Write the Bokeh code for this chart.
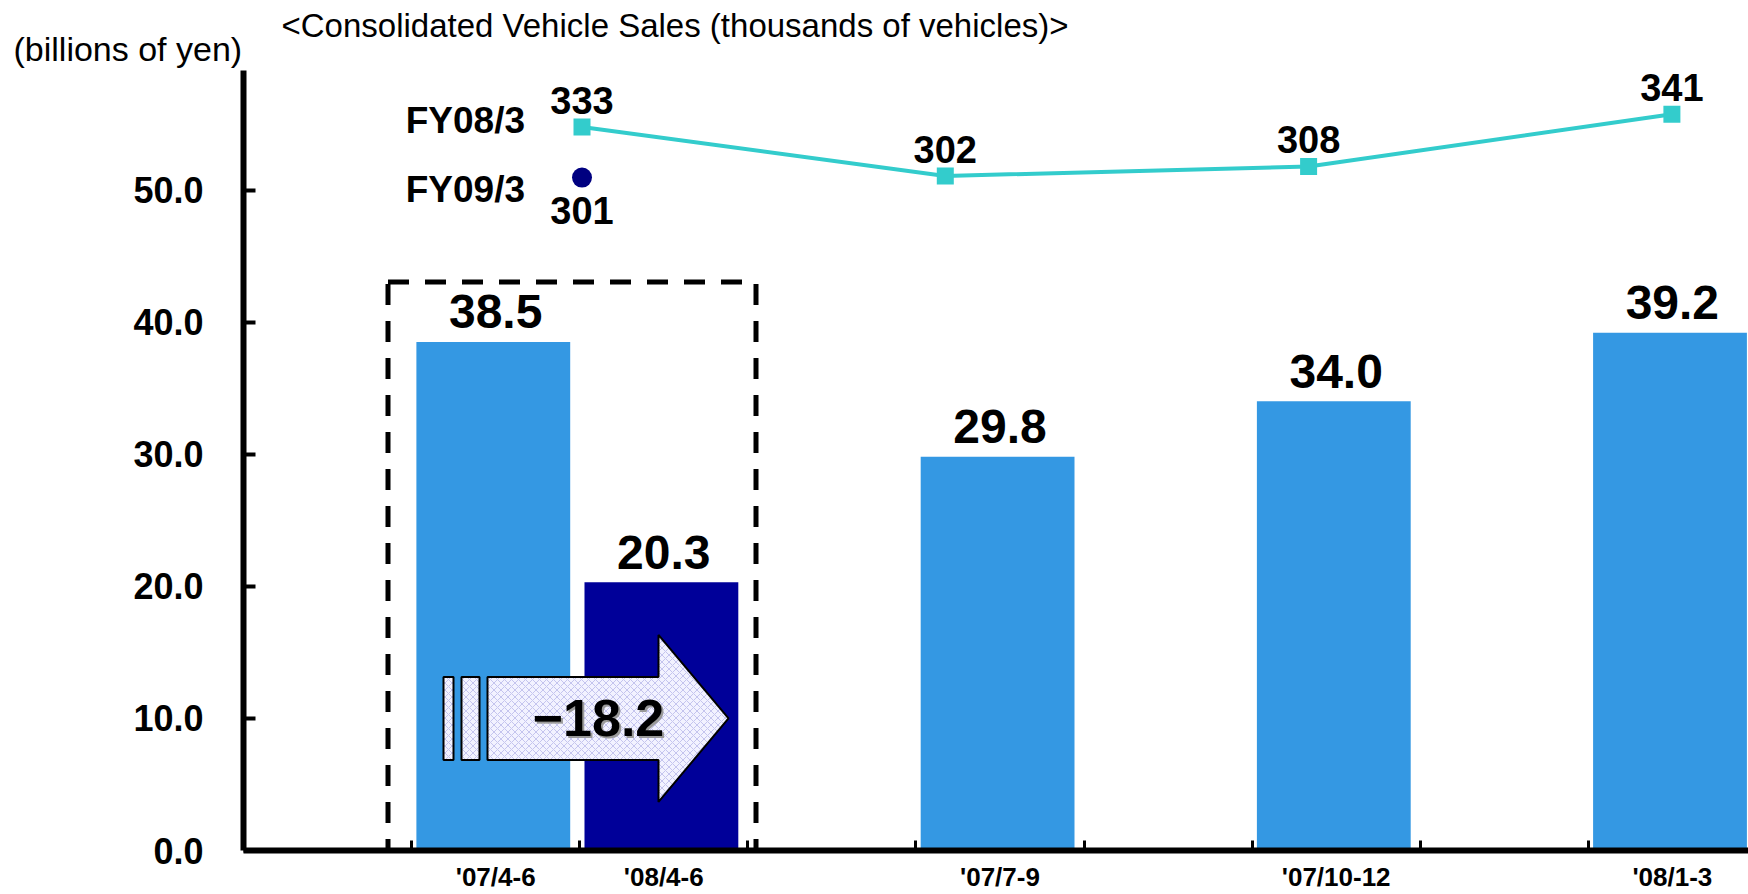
from bokeh.plotting import figure
from bokeh.models import Range1d, FixedTicker, PrintfTickFormatter
from bokeh.core.properties import value
from bokeh.embed import file_html
from bokeh.resources import INLINE

# ---------------- data ----------------
quarters = ["'07/4-6", "'08/4-6", "'07/7-9", "'07/10-12", "'08/1-3"]
fiscal_year = ["FY08/3", "FY09/3", "FY08/3", "FY08/3", "FY08/3"]
operating_income = [38.5, 20.3, 29.8, 34.0, 39.2]      # billions of yen
sales_fy08 = [333, 302, 308, 341]                       # thousands of vehicles, Q1..Q4
sales_fy09 = [301]                                      # Q1 only
y_ticks = [0, 10, 20, 30, 40, 50]
unit_label = "(billions of yen)"
sales_title = "<Consolidated Vehicle Sales (thousands of vehicles)>"

# ---------------- layout ----------------
slot_of_bar = [1, 2, 4, 6, 8]          # category slots on the x axis
n_slots = 9
BAR_SHIFT = -0.014                     # bars sit a hair left of the slot centre
FONT = "Liberation Sans"
BAR_COLORS = {"FY08/3": "#3498e3", "FY09/3": "#000099"}
LINE_COLOR = "#33cccc"
DOT_COLOR = "#000080"

W, H = 1748, 894
# pixel helpers (frame: x slot -0.5 at px 243, 168.1 px/slot; y 0 at px 850, 13.21 px/unit)
X0, SX, Y0, SY = 243.0, 168.1, 850.0, 13.21
FRAME_TOP = 70
def px2x(px):
    return (px - X0) / SX - 0.5
def px2y(py):
    return (Y0 - py) / SY

p = figure(width=W, height=H,
           x_range=Range1d(px2x(X0), px2x(W)),
           y_range=Range1d(0, px2y(FRAME_TOP)),
           output_backend="svg", toolbar_location=None,
           min_border_left=int(X0), min_border_right=0,
           min_border_top=FRAME_TOP, min_border_bottom=int(H - Y0))
p.outline_line_color = None
p.xgrid.visible = False
p.ygrid.visible = False

# secondary scales for the vehicle-sales line (quarter index 0..3)
QX0, QSX, QY0, QV0, QSY = 581.5, 363.3, 126.5, 333, 1.581
p.extra_x_ranges = {"sx": Range1d((X0 - QX0) / QSX, (W - QX0) / QSX)}
p.extra_y_ranges = {"sy": Range1d(QV0 - (Y0 - QY0) / QSY, QV0 + (QY0 - FRAME_TOP) / QSY)}

bold = dict(text_font=value(FONT), text_font_style="bold", text_color="black")

# dashed comparison box
p.quad(left=[px2x(387.5)], right=[px2x(755.5)], bottom=[0], top=[px2y(281.5)],
       fill_color=None, line_color="black", line_width=5, line_dash="21 16")

# bars
p.vbar(x=[s + BAR_SHIFT for s in slot_of_bar], top=operating_income, bottom=0, width=0.915,
       fill_color=[BAR_COLORS[f] for f in fiscal_year], line_color=None)

# bar value labels
p.text(x=slot_of_bar, y=operating_income, text=[f"{v:.1f}" for v in operating_income],
       text_align="center", text_baseline="middle", y_offset=-30,
       text_font_size="48px", **bold)

# difference arrow
diff = operating_income[1] - operating_income[0]
yc, hb, hh = 10.0, 41.5 / SY, 83.5 / SY
hatch = dict(fill_color="#f2f2ff", hatch_pattern="diagonal_cross", hatch_color="#c4c4ee",
             hatch_scale=7, hatch_weight=1, line_color="black", line_width=2)
p.quad(left=[px2x(443), px2x(461)], right=[px2x(453), px2x(479)],
       bottom=[yc - hb] * 2, top=[yc + hb] * 2, **hatch)
xb, xh, xt = px2x(487), px2x(658), px2x(728)
p.patch(x=[xb, xh, xh, xt, xh, xh, xb],
        y=[yc - hb, yc - hb, yc - hh, yc, yc + hh, yc + hb, yc + hb], **hatch)
diff_txt = f"{diff:.1f}".replace("-", "\u2212")
p.text(x=[px2x(598)], y=[yc], text=[diff_txt], x_offset=2, y_offset=2,
       text_align="center", text_baseline="middle", text_font=value(FONT),
       text_font_style="bold", text_font_size="52px", text_color="#9a9a9a")
p.text(x=[px2x(598)], y=[yc], text=[diff_txt],
       text_align="center", text_baseline="middle", text_font_size="52px", **bold)

# vehicle sales line
qx = list(range(len(sales_fy08)))
p.line(x=qx, y=sales_fy08, x_range_name="sx", y_range_name="sy",
       line_color=LINE_COLOR, line_width=4)
p.scatter(x=qx, y=sales_fy08, x_range_name="sx", y_range_name="sy",
          marker="square", size=17, fill_color=LINE_COLOR, line_color=None)
p.text(x=qx, y=sales_fy08, x_range_name="sx", y_range_name="sy",
       text=[str(v) for v in sales_fy08], y_offset=-27,
       text_align="center", text_baseline="middle", text_font_size="38px", **bold)
q9 = list(range(len(sales_fy09)))
p.scatter(x=q9, y=sales_fy09, x_range_name="sx", y_range_name="sy",
          marker="circle", size=20, fill_color=DOT_COLOR, line_color=None)
p.text(x=q9, y=sales_fy09, x_range_name="sx", y_range_name="sy",
       text=[str(v) for v in sales_fy09], y_offset=33,
       text_align="center", text_baseline="middle", text_font_size="38px", **bold)
# series names
p.text(x=[0, 0], y=[sales_fy08[0], sales_fy09[0]], x_range_name="sx", y_range_name="sy",
       text=["FY08/3", "FY09/3"], x_offset=-57, y_offset=[-7, 11.5],
       text_align="right", text_baseline="middle", text_font_size="37px", **bold)

# axes
xa = p.xaxis[0]
xa.ticker = FixedTicker(ticks=[], minor_ticks=[i + 0.5 for i in range(n_slots - 1)])
xa.major_tick_in = 0
xa.major_tick_out = 0
xa.minor_tick_in = 10
xa.minor_tick_out = 0
xa.minor_tick_line_width = 3
xa.minor_tick_line_color = "black"
xa.axis_line_width = 6
xa.axis_line_color = "black"
xa.major_label_standoff = 0

ya = p.yaxis[0]
ya.ticker = FixedTicker(ticks=y_ticks, minor_ticks=[])
ya.formatter = PrintfTickFormatter(format="%.1f")
ya.major_tick_in = 12
ya.major_tick_out = 0
ya.major_tick_line_width = 4
ya.major_tick_line_color = "black"
ya.axis_line_width = 6
ya.axis_line_color = "black"
ya.major_label_standoff = 40
ya.major_label_text_font = FONT
ya.major_label_text_font_style = "bold"
ya.major_label_text_font_size = "36px"
ya.major_label_text_color = "black"

# category labels under the axis (drawn unclipped)
p.text(x=slot_of_bar, y=[px2y(876)] * len(slot_of_bar), text=quarters,
       text_align="center", text_baseline="middle", text_font_size="26px",
       level="overlay", **bold)

# titles above the frame (drawn unclipped)
p.text(x=[px2x(13)], y=[px2y(48.5)], text=[unit_label], text_align="left",
       text_baseline="middle", text_font=value(FONT), text_font_size="34px",
       text_color="black", level="overlay")
p.text(x=[px2x(281)], y=[px2y(24.5)], text=[sales_title], text_align="left",
       text_baseline="middle", text_font=value(FONT), text_font_size="33px",
       text_color="black", level="overlay")

open("out.html", "w").write(file_html(p, INLINE))
